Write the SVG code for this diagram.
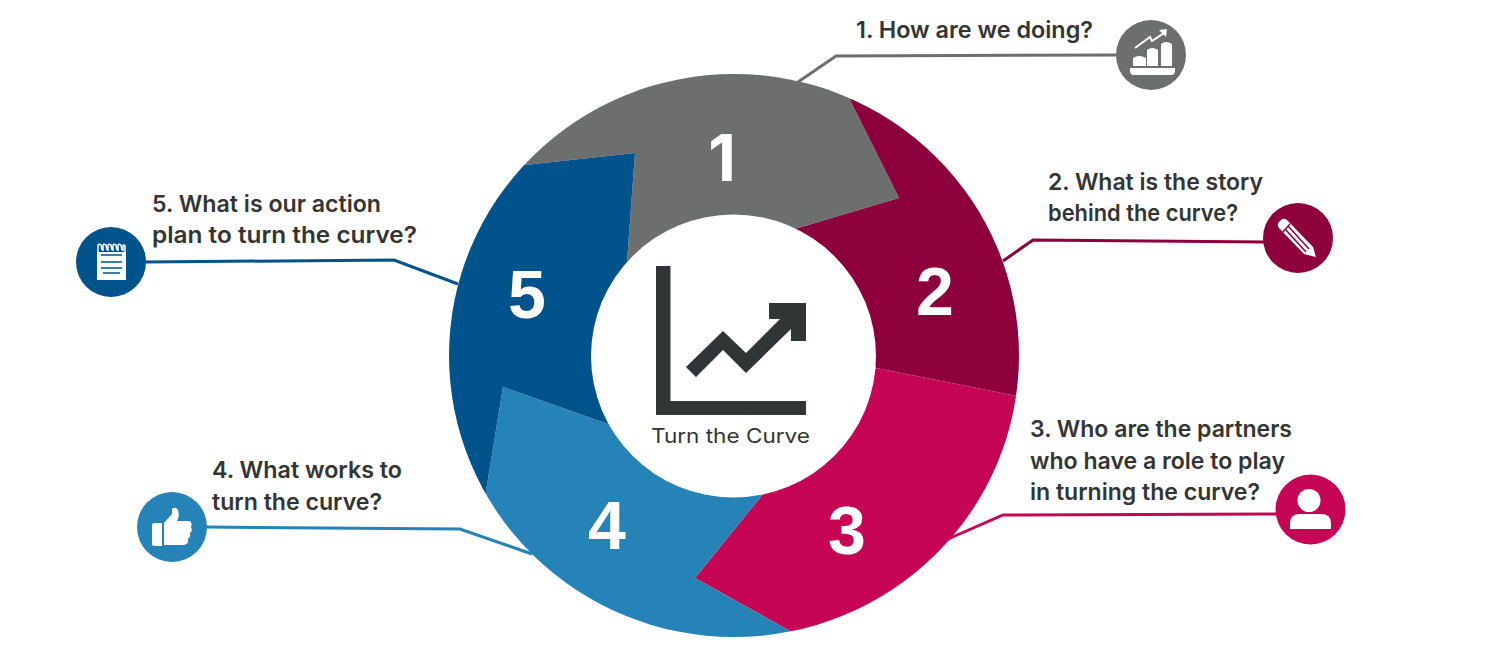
<svg xmlns="http://www.w3.org/2000/svg" width="1511" height="652" viewBox="0 0 1511 652">
<defs>
<clipPath id="ring"><ellipse cx="734" cy="355.500" rx="285" ry="281.500"/></clipPath>
</defs>
<style>
.t{font-family:"Inter","Open Sans","Liberation Sans",sans-serif;font-weight:600;font-size:23px;fill:#333535}
.n{font-family:"Liberation Sans",Arial,sans-serif;font-weight:700;font-size:68px;fill:#fff;text-anchor:middle}
.c{fill:none;stroke-width:3}
.w{fill:#fff}
</style>
<rect width="1511" height="652" fill="#fff"/>
<g id="connectors">
<path class="c" stroke="#6d6e6e" d="M798 82L836 56L1118 55"/>
<path class="c" stroke="#8e003b" d="M1003 261L1033 240L1265 242"/>
<path class="c" stroke="#c60655" d="M948 539L1003 515L1277 514"/>
<path class="c" stroke="#2583b8" d="M532 554L460 529L206 527"/>
<path class="c" stroke="#00538b" d="M458 284L394 260L146 262"/>
</g>
<g clip-path="url(#ring)">
<g id="segment-1"><path fill="#6d6e6e" d="M505 143L525 165L635 153L627 262L795 229L899 198L850 100L870 40H500Z"/></g>
<g id="segment-2"><path fill="#8e003b" d="M850 100L870 40H1060V400L1017 396L876 368L795 229L899 198Z"/></g>
<g id="segment-3"><path fill="#c60655" d="M1017 396L1060 400V650H770L790 631L695 578L763 494L876 368Z"/></g>
<g id="segment-4"><path fill="#2583b8" d="M790 631L770 650H470L486 491L503 387L611 425L763 494L695 578Z"/></g>
<g id="segment-5"><path fill="#00538b" d="M486 491L470 650H420V120H505L525 165L635 153L627 262L611 425L503 387Z"/></g>
</g>
<g id="center">
<ellipse cx="733.500" cy="356" rx="142.500" ry="141.500" fill="#fff"/>
<path fill="#323535" d="M656 266H670.500V401H806V415H656Z"/>
<path fill="#323535" d="M686 367L723 331L746 353L780 319H769V303H806V341H791V329L746 373L723 350L696 377Z"/>
<text x="651" y="443" style="font-family:'Inter','Open Sans',sans-serif;font-size:20px;fill:#333535" textLength="159" lengthAdjust="spacingAndGlyphs">Turn the Curve</text>
</g>
<g id="digits">
<text x="722" y="181" style="font-family:Inter,sans-serif;font-weight:700;font-size:64px;fill:#fff;text-anchor:middle">1</text>
<text class="n" x="935" y="315">2</text>
<text class="n" x="847" y="554">3</text>
<text class="n" x="607" y="549">4</text>
<text class="n" x="527" y="318">5</text>
</g>
<g id="node-1">
<text class="t" x="856" y="38" textLength="237" lengthAdjust="spacingAndGlyphs">1. How are we doing?</text>
<circle cx="1151" cy="55" r="35" fill="#6d6e6e"/>
<path class="w" d="M1130 68H1175V71Q1175 75 1171 75H1134Q1130 75 1130 71ZM1133 66V58Q1139 54 1146 58V66ZM1147 66V50Q1152 46 1158 50V66ZM1161 66V44Q1166 40 1172 44V66Z"/>
<path fill="none" stroke="#fff" stroke-width="2" d="M1135 48L1150 37L1152 41L1164 33"/>
<path class="w" d="M1159 30L1167 29L1166 37Z"/>
</g>
<g id="node-2">
<text class="t" x="1048" y="190" textLength="215" lengthAdjust="spacingAndGlyphs">2. What is the story</text>
<text class="t" x="1048" y="221" textLength="190" lengthAdjust="spacingAndGlyphs">behind the curve?</text>
<circle cx="1298" cy="238" r="35" fill="#8e003b"/>
<path class="w" d="M1278 226Q1277 223 1280 221L1282 219Q1285 218 1287 220L1313 247L1316 257L1304 254L1279 228Z"/>
<path fill="none" stroke="#8e003b" stroke-width="1.500" d="M1288 226L1309 249M1285 229L1306 252M1290 224L1283 232"/>
</g>
<g id="node-3">
<text class="t" x="1030" y="437" textLength="262" lengthAdjust="spacingAndGlyphs">3. Who are the partners</text>
<text class="t" x="1030" y="469" textLength="255" lengthAdjust="spacingAndGlyphs">who have a role to play</text>
<text class="t" x="1030" y="500" textLength="230" lengthAdjust="spacingAndGlyphs">in turning the curve?</text>
<circle cx="1310.500" cy="509.500" r="35" fill="#c60655"/>
<circle class="w" cx="1309" cy="500.500" r="11.500"/>
<path class="w" d="M1290 529V523Q1290 514 1300 514H1321Q1331 514 1331 523V529Z"/>
</g>
<g id="node-4">
<text class="t" x="212" y="478" textLength="190" lengthAdjust="spacingAndGlyphs">4. What works to</text>
<text class="t" x="212" y="510" textLength="170" lengthAdjust="spacingAndGlyphs">turn the curve?</text>
<circle cx="172" cy="527" r="35" fill="#2583b8"/>
<path class="w" d="M152 525Q152 523 155 523H162V546H155Q152 546 152 544Z"/>
<path class="w" d="M164 523L172 514L172 509Q176 506 178 510Q180 516 177 521H189Q193 522 191 527Q193 531 190 533Q191 537 188 539Q189 544 184 545H164Z"/>
</g>
<g id="node-5">
<text class="t" x="152" y="212" textLength="229" lengthAdjust="spacingAndGlyphs">5. What is our action</text>
<text class="t" x="152" y="243" textLength="265" lengthAdjust="spacingAndGlyphs">plan to turn the curve?</text>
<circle cx="111" cy="262" r="35" fill="#00538b"/>
<rect class="w" x="97" y="252" width="29" height="28"/>
<path fill="none" stroke="#fff" stroke-width="1.500" d="M98 252V246Q98 243 101 245L102 250M103 251V246Q103 243 106 245L107 250M108 251V246Q108 243 111 245L112 250M113 251V246Q113 243 116 245L117 250M118 251V246Q118 243 121 245L122 250M123 251V246Q124 244 125 246V252"/>
<path fill="none" stroke="#00538b" stroke-width="1.500" d="M101 255H122M101 262H122M101 268H122M103 273H120"/>
</g>
</svg>
